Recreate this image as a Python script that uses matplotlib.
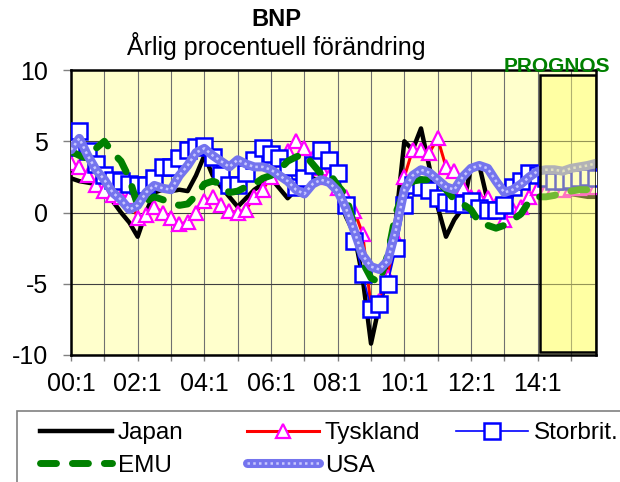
import matplotlib
matplotlib.use('Agg')
import matplotlib.pyplot as plt
import numpy as np
from matplotlib.patches import Rectangle

plt.rcParams['font.family'] = ['Liberation Sans', 'DejaVu Sans']

# ---- data: yearly % change, quarterly 2000Q1 .. 2015Q4 (2014Q1- forecast)
japan = [2.4, 2.2, 2.1, 2.0, 1.3, 0.8, 0.0, -0.7,
         -1.7, 0.0, 1.4, 1.6, 1.5, 1.6, 1.5, 2.6,
         4.0, 2.6, 1.8, 1.1, 0.4, 1.0, 1.6, 2.0,
         2.4, 1.7, 1.0, 1.6, 2.1, 2.4, 2.2, 2.1,
         1.4, -0.3, -1.5, -4.6, -9.2, -6.5, -4.5, -0.5,
         5.0, 4.4, 5.9, 3.2, 0.4, -1.7, -0.5, 0.3,
         3.2, 3.3, 0.8, 0.2, -0.3, 1.3, 2.3, 2.6,
         2.1, 1.6, 1.5, 1.4, 1.3, 1.2, 1.1, 1.1]
tyskland = [3.5, 3.2, 2.6, 1.9, 1.5, 1.2, 1.1, 1.1,
            -0.4, -0.2, 0.4, 0.0, -0.4, -0.8, -0.7, 0.0,
            0.8, 1.1, 0.5, 0.1, 0.0, 0.2, 1.1, 1.6,
            2.5, 3.9, 4.3, 5.0, 4.5, 3.8, 3.1, 2.5,
            1.7, 1.1, 0.1, -1.5, -6.6, -6.2, -4.5, -1.8,
            2.5, 4.4, 4.4, 4.2, 5.2, 3.2, 2.9, 1.7,
            1.1, 1.1, 1.0, 0.5, -0.5, 0.2, 0.4, 1.1,
            1.7, 1.6, 1.7, 1.6, 1.7, 1.7, 1.8, 1.8]
storbrit = [4.6, 5.7, 4.3, 3.4, 2.6, 2.3, 2.2, 2.0,
            1.9, 1.9, 2.4, 3.2, 3.2, 3.8, 4.4, 4.6,
            4.7, 3.9, 2.6, 1.9, 1.9, 2.75, 3.7, 4.5,
            4.1, 3.8, 3.2, 1.8, 2.4, 3.3, 4.4, 3.7,
            2.8, 0.5, -2.0, -4.3, -6.8, -6.4, -5.0, -2.5,
            0.5, 1.9, 1.8, 1.6, 1.0, 0.75, 0.7, 0.6,
            0.8, 0.3, 0.2, 0.2, 0.5, 1.8, 2.2, 2.75,
            2.6, 2.4, 2.2, 2.2, 2.3, 2.4, 2.5, 2.4]
emu = [4.3, 4.0, 3.8, 4.5, 5.0, 4.2, 3.6, 2.4,
       0.5, 0.8, 1.1, 0.9, 0.7, 0.5, 0.6, 1.2,
       2.0, 2.2, 2.0, 1.4, 1.5, 1.8, 2.0, 2.4,
       2.6, 3.0, 3.6, 3.9, 4.1, 3.4, 2.7, 2.75,
       1.9, 1.2, -1.0, -3.5, -4.6, -4.9, -3.0, 0.0,
       1.5, 2.2, 2.3, 2.3, 2.2, 1.6, 0.9, 0.6,
       0.2, -0.7, -0.9, -1.1, -0.9, -0.5, -0.1, 0.8,
       1.1, 1.1, 1.2, 1.4, 1.5, 1.6, 1.6, 1.7]
usa = [4.4, 5.2, 4.0, 3.0, 2.3, 1.4, 0.9, 0.2,
       0.5, 1.4, 1.9, 1.7, 1.6, 2.6, 3.3, 4.2,
       4.5, 4.0, 3.6, 3.2, 3.7, 3.4, 3.2, 3.2,
       3.0, 2.6, 2.2, 1.6, 1.3, 2.0, 2.3, 2.1,
       1.5, 0.3, -1.3, -3.0, -3.8, -4.0, -3.4, -1.2,
       1.6, 2.6, 3.0, 2.8, 2.3, 1.8, 1.6, 2.5,
       3.1, 3.3, 3.1, 2.2, 1.4, 1.6, 2.0, 2.5,
       2.9, 3.0, 3.0, 2.9, 3.1, 3.2, 3.3, 3.45]

tick_labels = ['00:1', '02:1', '04:1', '06:1', '08:1', '10:1', '12:1', '14:1']
series_names = ['Japan', 'Tyskland', 'Storbrit.', 'EMU', 'USA']
forecast_start = 56.3   # forecast box begins (quarter index)

W, H = 620, 482
fig = plt.figure(figsize=(W / 100, H / 100), dpi=100)
ax = fig.add_axes([71 / W, 1 - 355 / H, 525 / W, 285 / H])
ax.set_facecolor('#ffffcc')

x = np.arange(len(japan))
n = len(japan)

l_jp, = ax.plot(x, japan, color='black', lw=3.2, zorder=3)
l_de, = ax.plot(x, tyskland, color='red', lw=2.2, marker='^', ms=10.5,
                mfc='white', mec='#ff00ff', mew=1.6, zorder=4)
l_uk, = ax.plot(x, storbrit, color='#0000ff', lw=1.2, marker='s', ms=11,
                mfc='white', mec='#0000ff', mew=1.8, zorder=5)
l_emu, = ax.plot(x, emu, color='#008000', lw=5, ls=(0, (2.3, 2.3)),
                 dash_capstyle='round', zorder=6)
l_us1, = ax.plot(x, usa, color='#7474ee', lw=6.5, solid_capstyle='round',
                 solid_joinstyle='round', zorder=7)
l_us2, = ax.plot(x, usa, color='#c8c8ff', lw=1.8, ls=(0, (1, 1.3)), zorder=7.1)

# forecast box
ax.add_patch(Rectangle((forecast_start, -9.8), (n - 1) - 0.04 - forecast_start, 19.45,
                       facecolor=(1, 1, 0.45, 0.45), edgecolor='black',
                       lw=1.8, zorder=10))

ax.set_xlim(0, n - 1)
ax.set_ylim(-10, 10)
ax.set_xticks(np.arange(0, n, 8))
ax.set_xticklabels(tick_labels)
ax.set_xticks(np.arange(4, n, 8), minor=True)
ax.set_yticks([-10, -5, 0, 5, 10])
ax.set_yticklabels(['-10', '-5', '0', '5', '10'])
ax.tick_params(axis='x', which='both', direction='out', length=4.5, width=1,
               color='#808080', pad=8, labelsize=18)
ax.tick_params(axis='y', direction='out', length=5.8, width=1,
               color='#808080', pad=11, labelsize=18)
ax.set_axisbelow(True)
ax.grid(True, axis='x', which='both', color='#707070', lw=0.8)
ax.grid(True, axis='y', which='major', color='#404040', lw=0.8)
for s in ax.spines.values():
    s.set_linewidth(1.8)
    s.set_color('black')

# titles
fig.text(276 / W, 1 - 19 / H, 'BNP', ha='center', va='center',
         fontsize=17, fontweight='bold')
fig.text(276 / W, 1 - 46 / H, 'Årlig procentuell förändring', ha='center',
         va='center', fontsize=18)
fig.text(557 / W, 1 - 66 / H, 'PROGNOS', ha='center', va='center',
         fontsize=15, fontweight='bold', color='#008000', zorder=20)

# legend frame (extends beyond the figure edges)
fig.add_artist(Rectangle((17 / W, -0.2), 2.0, 0.2 + (1 - 411 / H),
                         transform=fig.transFigure, fill=False,
                         edgecolor='#808080', lw=1.2))

leg_kw = dict(loc='upper left', frameon=False, fontsize=17.5, borderpad=0,
              borderaxespad=0, handlelength=2.95, handletextpad=0.25,
              labelspacing=0.45, numpoints=1)
cols = [([l_jp, l_emu], [series_names[0], series_names[3]], 40),
        ([l_de, (l_us1, l_us2)], [series_names[1], series_names[4]], 247),
        ([l_uk], [series_names[2]], 456)]
for handles, labels, px in cols:
    lg = fig.legend(handles, labels, bbox_to_anchor=(px / W, 1 - 422 / H),
                    bbox_transform=fig.transFigure, **leg_kw)

fig.savefig('out.png', dpi=100)
